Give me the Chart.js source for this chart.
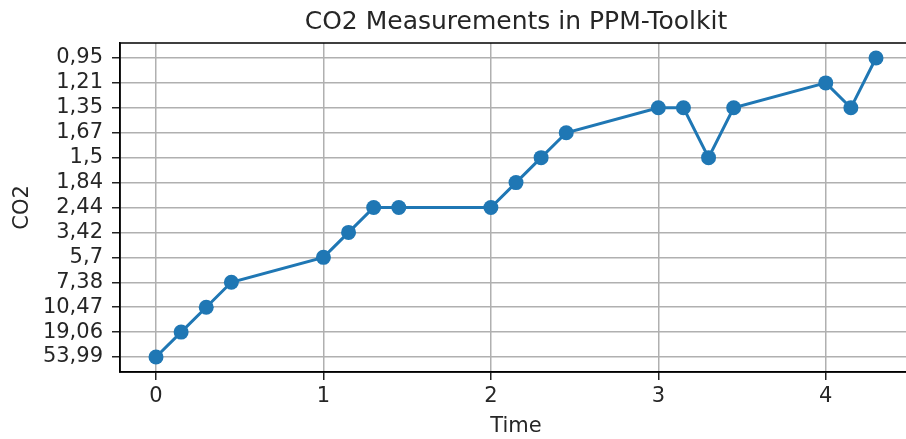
<!DOCTYPE html>
<html>
<head>
<meta charset="utf-8">
<script src="https://cdn.jsdelivr.net/npm/chart.js@4.4.1/dist/chart.umd.min.js"></script>
<style>
  html, body { margin: 0; padding: 0; background: #fff; overflow: hidden; }
  #wrap { position: relative; width: 940px; height: 439px; }
</style>
</head>
<body>
<div id="wrap"><canvas id="co2-chart"></canvas></div>
<script>
// CO2 categories, bottom to top (order of first appearance)
const co2Labels = ['53,99', '19,06', '10,47', '7,38', '5,7', '3,42', '2,44', '1,84', '1,5', '1,67', '1,35', '1,21', '0,95'];
const times = [0, 0.15, 0.3, 0.45, 1, 1.15, 1.3, 1.45, 2, 2.15, 2.3, 2.45, 3, 3.15, 3.3, 3.45, 4, 4.15, 4.3];
const co2Values = ['53,99', '19,06', '10,47', '7,38', '5,7', '3,42', '2,44', '2,44', '2,44', '1,84', '1,5', '1,67', '1,35', '1,35', '1,5', '1,35', '1,21', '1,35', '0,95'];
const xTicks = [0, 1, 2, 3, 4];

const points = times.map((t, i) => ({ x: t, y: co2Labels.indexOf(co2Values[i]) }));
const yTicks = co2Labels.map((l, i) => i);

const textColor = '#262626';
const fontFamily = '"DejaVu Sans", sans-serif';

// full box round the plot, like matplotlib spines
const frame = {
    id: 'frame',
    afterDraw(chart) {
	const a = chart.chartArea;
	const ctx = chart.ctx;
	ctx.save();
	ctx.strokeStyle = '#000';
	ctx.lineWidth = 1.5;
	ctx.strokeRect(a.left, a.top, a.right - a.left, a.bottom - a.top);
	ctx.restore();
    }
};

const xSpan = times[times.length - 1] - times[0];
const ySpan = co2Labels.length - 1;

new Chart(document.getElementById('co2-chart').getContext('2d'), {
    type: 'line',
    data: {
	datasets: [{
	    data: points,
	    borderColor: '#1f77b4',
	    backgroundColor: '#1f77b4',
	    borderWidth: 3,
	    pointRadius: 7.5,
	    pointBorderWidth: 0,
	    pointBackgroundColor: '#1f77b4',
	    tension: 0,
	    fill: false
	}]
    },
    options: {
	responsive: true,
	maintainAspectRatio: false,
	animation: false,
	layout: { padding: { left: 0, right: 28, top: 0, bottom: 0 } },
	plugins: {
	    legend: { display: false },
	    tooltip: { enabled: false },
	    title: {
		display: true,
		text: 'CO2 Measurements in PPM-Toolkit',
		fullSize: false,
		color: textColor,
		font: { family: fontFamily, size: 25, weight: 'normal' },
		padding: { top: 7, bottom: 6 }
	    }
	},
	scales: {
	    x: {
		type: 'linear',
		min: times[0] - xSpan * 0.05,
		max: times[times.length - 1] + xSpan * 0.05,
		afterBuildTicks: (s) => { s.ticks = xTicks.map(v => ({ value: v })); },
		afterFit: (s) => { s.height = 67; },
		grid: { color: '#b0b0b0', lineWidth: 1.5, tickLength: 8, tickColor: '#222', tickWidth: 1.5 },
		border: { display: true, color: '#000', width: 1.5 },
		ticks: { color: textColor, font: { family: fontFamily, size: 21 }, padding: 4, maxRotation: 0, autoSkip: false },
		title: { display: true, text: 'Time', color: textColor, font: { family: fontFamily, size: 21 }, padding: { top: 0, bottom: 0 } }
	    },
	    y: {
		type: 'linear',
		min: -ySpan * 0.05,
		max: ySpan * 1.05,
		afterBuildTicks: (s) => { s.ticks = yTicks.map(v => ({ value: v })); },
		afterFit: (s) => { s.width = 120; },
		grid: { color: '#b0b0b0', lineWidth: 1.5, tickLength: 8, tickColor: '#222', tickWidth: 1.5 },
		border: { display: true, color: '#000', width: 1.5 },
		ticks: {
		    color: textColor,
		    font: { family: fontFamily, size: 21 },
		    padding: 9,
		    autoSkip: false,
		    callback: (v) => co2Labels[v]
		},
		title: { display: true, text: 'CO2', color: textColor, font: { family: fontFamily, size: 21 }, padding: { top: 10, bottom: 0 } }
	    }
	}
    },
    plugins: [frame]
});
</script>
</body>
</html>
